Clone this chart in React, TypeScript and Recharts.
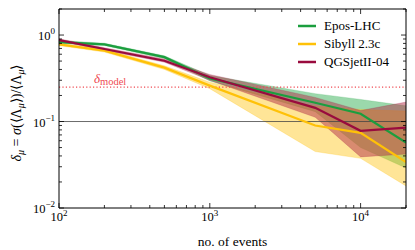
import {
  ComposedChart, Line, Area, XAxis, YAxis, ReferenceLine
} from 'recharts'

const events = [100, 200, 500, 1000, 5000, 10000, 20000]

const eposMid = [0.83, 0.78, 0.555, 0.315, 0.165, 0.123, 0.057]
const eposLo = [0.8, 0.755, 0.535, 0.295, 0.13, 0.05, 0.029]
const eposHi = [0.865, 0.805, 0.575, 0.34, 0.21, 0.18, 0.152]

const sibyllMid = [0.78, 0.66, 0.42, 0.26, 0.09, 0.074, 0.034]
const sibyllLo = [0.755, 0.635, 0.4, 0.24, 0.045, 0.0375, 0.018]
const sibyllHi = [0.805, 0.685, 0.44, 0.285, 0.15, 0.138, 0.132]

const qgsMid = [0.875, 0.69, 0.505, 0.325, 0.144, 0.078, 0.085]
const qgsLo = [0.845, 0.665, 0.485, 0.3, 0.112, 0.039, 0.042]
const qgsHi = [0.905, 0.715, 0.53, 0.35, 0.19, 0.134, 0.168]

const xTicks = [100, 200, 300, 400, 500, 600, 700, 800, 900, 1000, 2000, 3000, 4000, 5000, 6000, 7000, 8000, 9000, 10000, 20000]
const yTicks = [0.01, 0.02, 0.03, 0.04, 0.05, 0.06, 0.07, 0.08, 0.09, 0.1, 0.2, 0.3, 0.4, 0.5, 0.6, 0.7, 0.8, 0.9, 1, 2]

const deltaModel = 0.25
const refLevel = 0.1

const GREEN = '#1b9e3e'
const YELLOW = '#ffc107'
const RED = '#990b3e'
const MODEL_RED = '#ef4a52'

const FONT = '"Liberation Serif", "Times New Roman", serif'

const W = 415
const H = 250
const LEFT = 59
const RIGHT = 406
const TOP = 9
const BOTTOM = 208

const data = events.map((n, i) => ({
  n,
  epos: eposMid[i],
  eposBand: [eposLo[i], eposHi[i]],
  sibyll: sibyllMid[i],
  sibyllBand: [sibyllLo[i], sibyllHi[i]],
  qgs: qgsMid[i],
  qgsBand: [qgsLo[i], qgsHi[i]],
}))

const legendItems = [
  { name: 'Epos-LHC', color: GREEN },
  { name: 'Sibyll 2.3c', color: YELLOW },
  { name: 'QGSjetII-04', color: RED },
]

const isMajor = (v: number) => Math.abs(Math.log10(v) - Math.round(Math.log10(v))) < 1e-6
const expOf = (v: number) => {
  const e = Math.round(Math.log10(v))
  return e < 0 ? '\u2212' + Math.abs(e) : String(e)
}

const BottomTick = (props: any) => {
  const { x, payload } = props
  const v = payload.value
  const major = isMajor(v)
  return (
    <g>
      <line x1={x} x2={x} y1={BOTTOM} y2={BOTTOM - (major ? 5 : 3)} stroke="#000" strokeWidth={0.8} />
      {major && (
        <text x={x} y={BOTTOM + 13} textAnchor="middle" fontFamily={FONT} fontSize={12.5} fill="#000">
          10<tspan dy={-5} fontSize={9}>{expOf(v)}</tspan>
        </text>
      )}
    </g>
  )
}

const TopTick = (props: any) => {
  const { x, payload } = props
  const major = isMajor(payload.value)
  return <line x1={x} x2={x} y1={TOP} y2={TOP + (major ? 5 : 3)} stroke="#000" strokeWidth={0.8} />
}

const LeftTick = (props: any) => {
  const { y, payload } = props
  const v = payload.value
  const major = isMajor(v)
  return (
    <g>
      <line x1={LEFT} x2={LEFT + (major ? 5 : 3)} y1={y} y2={y} stroke="#000" strokeWidth={0.8} />
      {major && (
        <text x={LEFT - 4} y={y + 5} textAnchor="end" fontFamily={FONT} fontSize={12.5} fill="#000">
          10<tspan dy={-6} fontSize={9}>{expOf(v)}</tspan>
        </text>
      )}
    </g>
  )
}

const RightTick = (props: any) => {
  const { y, payload } = props
  const major = isMajor(payload.value)
  return <line x1={RIGHT} x2={RIGHT - (major ? 5 : 3)} y1={y} y2={y} stroke="#000" strokeWidth={0.8} />
}

const YLabel = () => (
  <text
    transform={`translate(21, 113) rotate(-90)`}
    textAnchor="middle"
    fontFamily={FONT}
    fontSize={14}
    fill="#000"
  >
    <tspan fontStyle="italic">δ</tspan>
    <tspan fontStyle="italic" fontSize={10} dy={3}>μ</tspan>
    <tspan dy={-3}> = </tspan>
    <tspan fontStyle="italic">σ</tspan>
    <tspan>(⟨Λ</tspan>
    <tspan fontStyle="italic" fontSize={10} dy={3}>μ</tspan>
    <tspan dy={-3}>⟩)/⟨Λ</tspan>
    <tspan fontStyle="italic" fontSize={10} dy={3}>μ</tspan>
    <tspan dy={-3}>⟩</tspan>
  </text>
)

const XLabel = () => (
  <text x={(LEFT + RIGHT) / 2} y={246} textAnchor="middle" fontFamily={FONT} fontSize={13.5} fill="#000">
    no. of events
  </text>
)

const ModelLabel = ({ viewBox }: any) => (
  <text x={94} y={viewBox.y - 4} fontFamily={FONT} fontSize={13} fill={MODEL_RED}>
    <tspan fontStyle="italic">δ</tspan>
    <tspan fontSize={10.5} dy={2}>model</tspan>
  </text>
)

const LegendBox = () => (
  <div style={{ position: 'absolute', top: 17, left: 296, fontFamily: FONT, fontSize: 13, color: '#000' }}>
    {legendItems.map((it) => (
      <div key={it.name} style={{ display: 'flex', alignItems: 'center', height: 18 }}>
        <svg width={28} height={18}>
          <line x1={2} x2={20} y1={9} y2={9} stroke={it.color} strokeWidth={2.5} />
        </svg>
        <span>{it.name}</span>
      </div>
    ))}
  </div>
)

const axisLine = { stroke: '#000', strokeWidth: 1 }

export default function App() {
  return (
    <div style={{ position: 'absolute', left: 0, top: 0, width: W, height: H, background: '#fff' }}>
      <ComposedChart
        width={W}
        height={H}
        data={data}
        margin={{ top: TOP - 1, right: W - RIGHT - 1, bottom: H - BOTTOM - 1, left: LEFT - 1 }}
      >
        <XAxis
          dataKey="n"
          type="number"
          scale="log"
          domain={[100, 20000]}
          allowDataOverflow
          ticks={xTicks}
          interval={0}
          height={1}
          tickLine={false}
          axisLine={axisLine}
          tick={BottomTick}
          label={XLabel}
        />
        <XAxis
          xAxisId="top"
          dataKey="n"
          orientation="top"
          type="number"
          scale="log"
          domain={[100, 20000]}
          allowDataOverflow
          ticks={xTicks}
          interval={0}
          height={1}
          tickLine={false}
          axisLine={axisLine}
          tick={TopTick}
        />
        <YAxis
          type="number"
          scale="log"
          domain={[0.01, 2]}
          allowDataOverflow
          ticks={yTicks}
          interval={0}
          width={1}
          tickLine={false}
          axisLine={axisLine}
          tick={LeftTick}
          label={YLabel}
        />
        <YAxis
          yAxisId="right"
          orientation="right"
          type="number"
          scale="log"
          domain={[0.01, 2]}
          allowDataOverflow
          ticks={yTicks}
          interval={0}
          width={1}
          tickLine={false}
          axisLine={axisLine}
          tick={RightTick}
        />
        <ReferenceLine y={refLevel} stroke="#444" strokeWidth={0.8} />
        <ReferenceLine
          y={deltaModel}
          stroke={MODEL_RED}
          strokeWidth={1.2}
          strokeDasharray="1.2 2.2"
          label={ModelLabel}
        />
        <Area dataKey="eposBand" stroke={GREEN} strokeOpacity={0.3} strokeWidth={0.6} fill="#22a845" fillOpacity={0.45} isAnimationActive={false} />
        <Area dataKey="sibyllBand" stroke={YELLOW} strokeOpacity={0.4} strokeWidth={0.6} fill={YELLOW} fillOpacity={0.42} isAnimationActive={false} />
        <Area dataKey="qgsBand" stroke={RED} strokeOpacity={0.3} strokeWidth={0.6} fill="#b3324a" fillOpacity={0.5} isAnimationActive={false} />
        <Line dataKey="epos" stroke={GREEN} strokeWidth={2.2} dot={false} isAnimationActive={false} />
        <Line dataKey="sibyll" stroke={YELLOW} strokeWidth={2.2} dot={false} isAnimationActive={false} />
        <Line dataKey="qgs" stroke={RED} strokeWidth={2.2} dot={false} isAnimationActive={false} />
      </ComposedChart>
      <LegendBox />
    </div>
  )
}
